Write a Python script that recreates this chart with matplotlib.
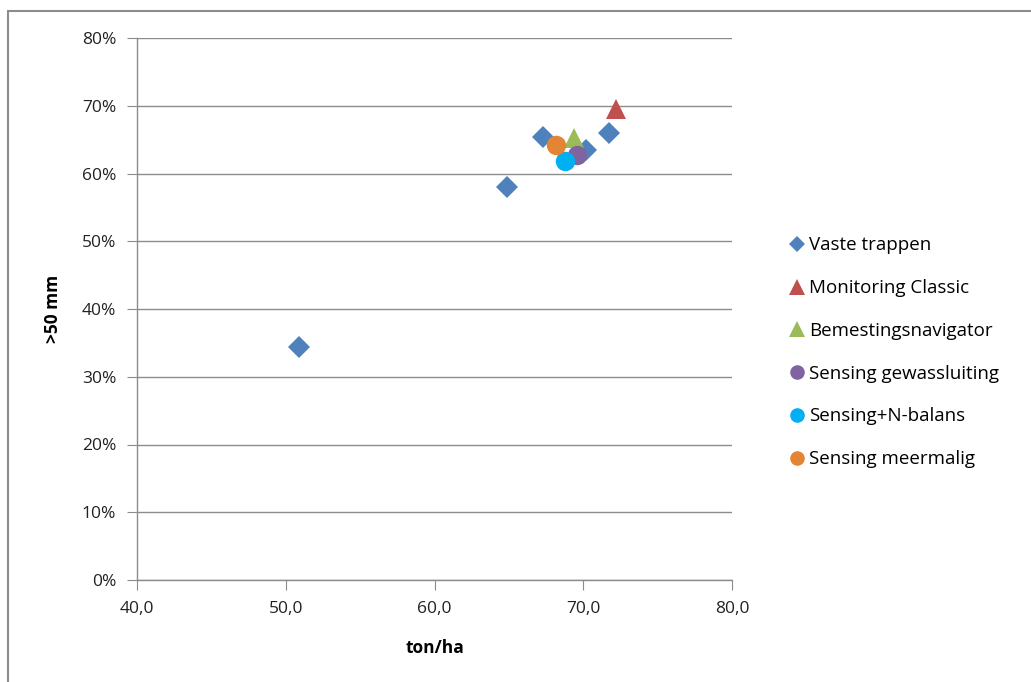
import matplotlib.pyplot as plt
from matplotlib.patches import Rectangle
from matplotlib.ticker import FuncFormatter

# data (x = ton/ha, y = fraction > 50 mm)
vaste_x = [50.9, 64.9, 67.3, 70.2, 71.7]
vaste_y = [0.344, 0.580, 0.654, 0.635, 0.660]
monitoring_x = [72.2]
monitoring_y = [0.695]
bemesting_x = [69.4]
bemesting_y = [0.652]
gewas_x = [69.6]
gewas_y = [0.627]
nbalans_x = [68.8]
nbalans_y = [0.619]
meermalig_x = [68.2]
meermalig_y = [0.642]

xticks = [40, 50, 60, 70, 80]
yticks = [0, 0.1, 0.2, 0.3, 0.4, 0.5, 0.6, 0.7, 0.8]

plt.rcParams['font.family'] = ['Open Sans', 'DejaVu Sans']

fig = plt.figure(figsize=(10.31, 6.82), dpi=100)
ax = fig.add_axes([137 / 1031, 1 - 580 / 682, (732 - 137) / 1031, (580 - 38) / 682])

series = [
    (vaste_x, vaste_y, 'D', 11, '#4F81BD', 'Vaste trappen'),
    (monitoring_x, monitoring_y, '^', 15, '#C0504D', 'Monitoring Classic'),
    (bemesting_x, bemesting_y, '^', 15, '#9BBB59', 'Bemestingsnavigator'),
    (gewas_x, gewas_y, 'o', 14, '#8064A2', 'Sensing gewassluiting'),
    (nbalans_x, nbalans_y, 'o', 14, '#00B0F0', 'Sensing+N-balans'),
    (meermalig_x, meermalig_y, 'o', 14, '#E48535', 'Sensing meermalig'),
]
for xs, ys, m, ms, c, lab in series:
    ax.plot(xs, ys, linestyle='none', marker=m, markersize=ms, color=c,
            markeredgewidth=0, label=lab)

ax.set_xlim(40, 80)
ax.set_ylim(0, 0.8)
ax.set_xticks(xticks)
ax.set_yticks(yticks)
ax.xaxis.set_major_formatter(FuncFormatter(lambda v, p: f'{v:.1f}'.replace('.', ',')))
ax.yaxis.set_major_formatter(FuncFormatter(lambda v, p: f'{v * 100:.0f}%'))
ax.tick_params(labelsize=12.5, colors='#8c8c8c', labelcolor='#222222', length=7,
               direction='out')
ax.tick_params(axis='x', pad=8)
ax.tick_params(axis='y', pad=8)

ax.grid(axis='y', color='#8c8c8c', linewidth=1)
ax.set_axisbelow(True)
for s in ['top', 'right']:
    ax.spines[s].set_visible(False)
for s in ['left', 'bottom']:
    ax.spines[s].set_color('#8c8c8c')
    ax.spines[s].set_linewidth(1)

ax.set_xlabel('ton/ha', fontsize=12.5, fontweight='bold', labelpad=16)
ax.set_ylabel('>50 mm', fontsize=12.5, fontweight='bold', labelpad=14)

ax.legend(loc='upper left', bbox_to_anchor=(777 / 1031, 1 - 229 / 682),
          bbox_transform=fig.transFigure, frameon=False, fontsize=13.5,
          handletextpad=0.0, labelspacing=1.32, handlelength=1.3,
          markerscale=0.75, borderaxespad=0)

# outer chart border
fig.patches.append(Rectangle((8 / 1031, -0.01), 1.1, 1 - 11 / 682 + 0.01,
                             transform=fig.transFigure, fill=False,
                             edgecolor='#8c8c8c', linewidth=1.5))

fig.savefig('out.png', dpi=100)
